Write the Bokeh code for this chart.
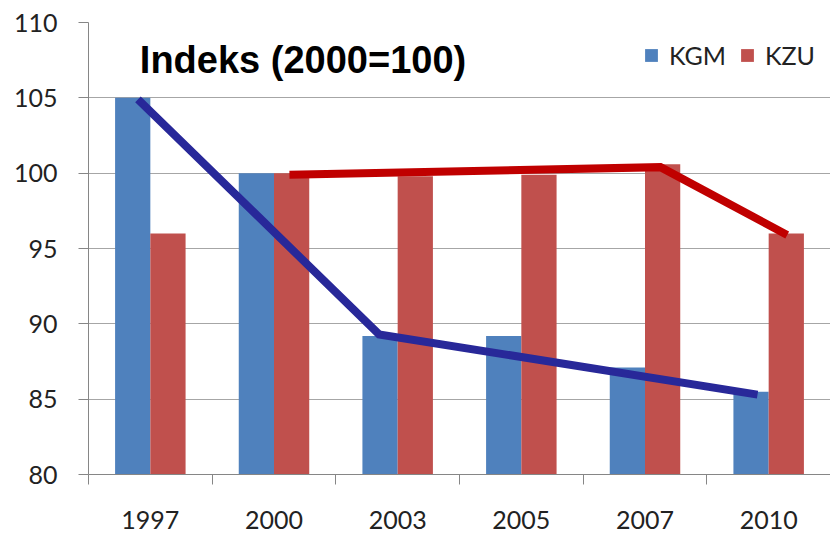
import numpy as np
from bokeh.plotting import figure
from bokeh.models import Range1d, FixedTicker, Label, Legend, LegendItem
from bokeh.embed import file_html
from bokeh.resources import INLINE

# ---- data ----
years = ["1997", "2000", "2003", "2005", "2007", "2010"]
kgm = [105.0, 100.0, 89.2, 89.2, 87.1, 85.5]
kzu = [96.0, 100.0, 99.8, 99.9, 100.6, 96.0]

# hand-drawn trend lines (year, value)
kgm_line_years = ["1997", "2003", "2010"]
kgm_line_vals = [104.9, 89.3, 85.3]
kzu_line_years = ["2000", "2007", "2010"]
kzu_line_vals = [99.9, 100.4, 95.9]

y_ticks = [80, 85, 90, 95, 100, 105, 110]
title_text = "Indeks (2000=100)"

BLUE = "#4F81BD"
RED = "#C0504D"
NAVY = "#282899"
DARKRED = "#C00000"
GRID = "#A6A6A6"
FONT = "Lato"

n = len(years)
centers = np.arange(n) + 0.5
bw = 0.285

p = figure(width=830, height=534, output_backend="svg", toolbar_location=None,
           x_range=Range1d(0, n), y_range=Range1d(80, 110),
           min_border_left=88, min_border_right=0, min_border_top=22, min_border_bottom=60)
p.outline_line_color = None
p.background_fill_color = "white"

r1 = p.vbar(x=centers - bw / 2, top=kgm, bottom=80, width=bw, fill_color=BLUE, line_color=None)
r2 = p.vbar(x=centers + bw / 2, top=kzu, bottom=80, width=bw, fill_color=RED, line_color=None)

idx = {y: i for i, y in enumerate(years)}
kgm_off = [-0.10, -0.15, -0.09]
kzu_off = [0.125, 0.125, 0.15]
p.line([idx[y] + 0.5 + o for y, o in zip(kgm_line_years, kgm_off)], kgm_line_vals,
       line_color=NAVY, line_width=8, line_join="miter")
p.line([idx[y] + 0.5 + o for y, o in zip(kzu_line_years, kzu_off)], kzu_line_vals,
       line_color=DARKRED, line_width=8, line_join="miter")

# axes
p.xgrid.grid_line_color = None
p.ygrid.grid_line_color = GRID
p.ygrid.grid_line_width = 1
p.ygrid.ticker = FixedTicker(ticks=y_ticks)

xa = p.xaxis[0]
xa.ticker = FixedTicker(ticks=list(centers), minor_ticks=list(range(n + 1)))
xa.major_label_overrides = {float(c): y for c, y in zip(centers, years)}
xa.major_tick_out = 0
xa.major_tick_in = 0
xa.minor_tick_out = 10
xa.minor_tick_in = 0
xa.minor_tick_line_color = "#868686"
xa.axis_line_color = "#868686"
xa.major_label_text_font = FONT
xa.major_label_text_font_size = "25px"
xa.major_label_text_color = "#222222"
xa.major_label_standoff = 26

ya = p.yaxis[0]
ya.ticker = FixedTicker(ticks=y_ticks)
ya.major_tick_out = 10
ya.major_tick_in = 0
ya.minor_tick_line_color = None
ya.major_tick_line_color = "#868686"
ya.axis_line_color = "#868686"
ya.major_label_text_font = FONT
ya.major_label_text_font_size = "25px"
ya.major_label_text_color = "#222222"
ya.major_label_standoff = 21

# title inside plot
p.add_layout(Label(x=0.415, y=107.5, text=title_text, text_font="Liberation Sans",
                   text_font_style="bold", text_font_size="38px", text_color="black",
                   text_baseline="alphabetic"))

legend = Legend(items=[LegendItem(label="KGM", renderers=[r1]),
                       LegendItem(label="KZU", renderers=[r2])],
                location=(555, 404), orientation="horizontal",
                label_text_font=FONT, label_text_font_size="25px", label_text_color="#222222",
                glyph_width=16, glyph_height=16, label_standoff=10, spacing=13,
                padding=0, margin=0, border_line_color=None, background_fill_alpha=0)
p.add_layout(legend)

open("out.html", "w").write(file_html(p, INLINE))
